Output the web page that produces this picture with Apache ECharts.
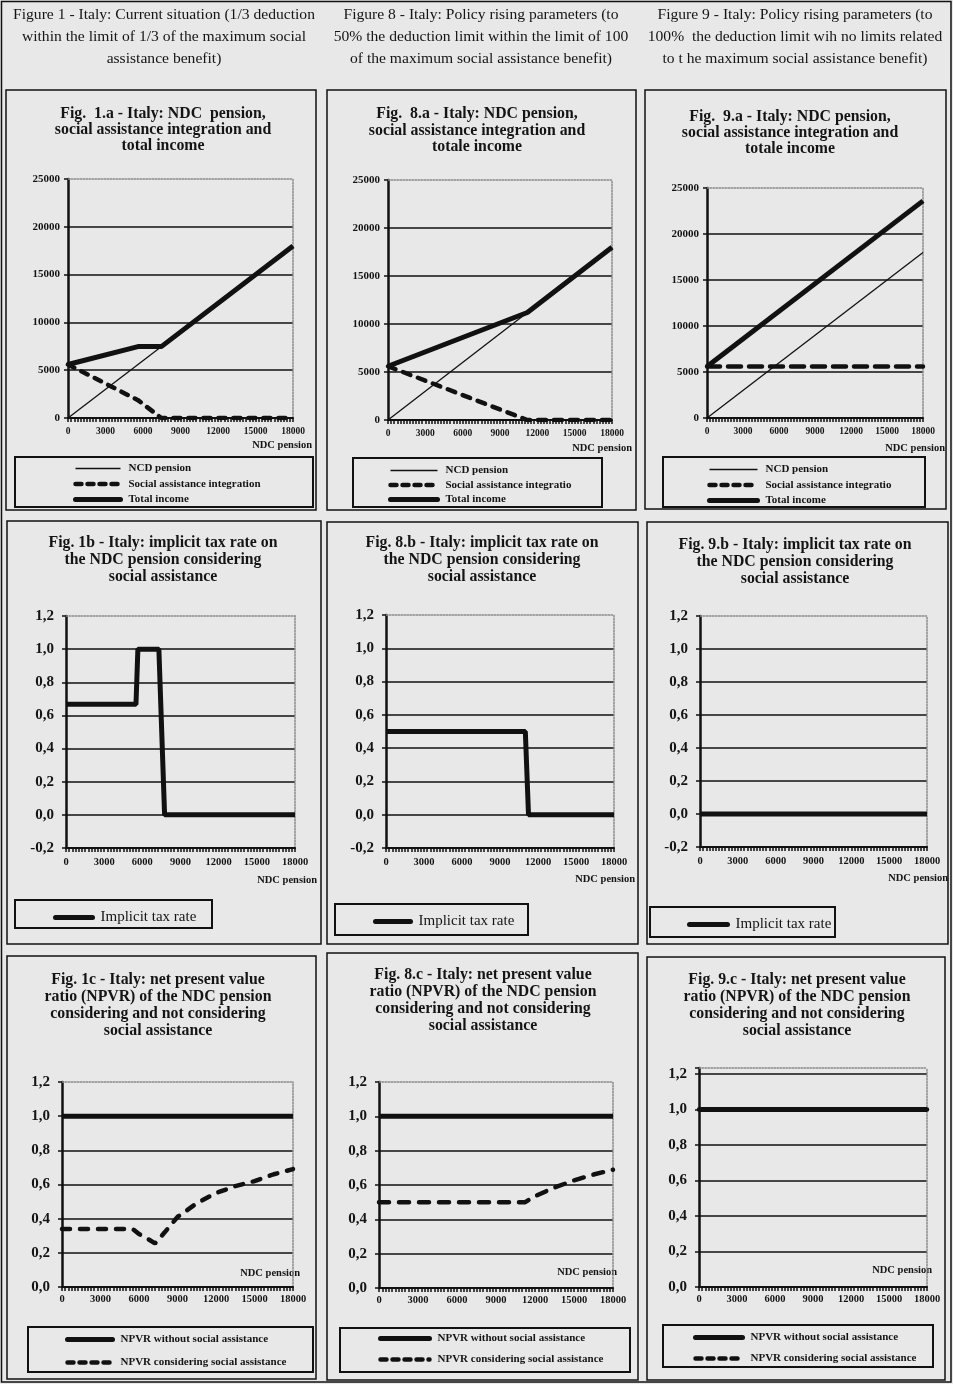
<!DOCTYPE html>
<html><head><meta charset="utf-8">
<script src="https://cdn.jsdelivr.net/npm/echarts@6/dist/echarts.min.js"></script>
<style>html,body{margin:0;padding:0;background:#e8e8e8}#c{width:953px;height:1384px}</style>
</head><body><div id="c"></div>
<script>
// ---------------- data ----------------
const xTickLabels = ['0','3000','6000','9000','12000','15000','18000'];
const incomeTickLabels = ['0','5000','10000','15000','20000','25000'];
const rateTickLabels = ['-0,2','0,0','0,2','0,4','0,6','0,8','1,0','1,2'];
const npvrTickLabels = ['0,0','0,2','0,4','0,6','0,8','1,0','1,2'];

// [NDC pension, value]
const ndcPension = [[0,0],[18000,18000]];
const fig1a_assistance = [[0,5600],[5600,1867],[7467,0],[18000,0]];
const fig1a_total = [[0,5600],[5600,7467],[7467,7467],[18000,18000]];
const fig8a_assistance = [[0,5600],[11200,0],[18000,0]];
const fig8a_total = [[0,5600],[11200,11200],[18000,18000]];
const fig9a_assistance = [[0,5600],[18000,5600]];
const fig9a_total = [[0,5600],[18000,23600]];

const fig1b_taxRate = [[0,0.667],[5500,0.667],[5650,1.0],[7300,1.0],[7750,0],[18000,0]];
const fig8b_taxRate = [[0,0.5],[11000,0.5],[11250,0],[18000,0]];
const fig9b_taxRate = [[0,0],[18000,0]];

const npvrWithout = [[0,1],[18000,1]];
const fig1c_npvrConsidering = [[0,0.34],[5500,0.34],[6000,0.31],[6500,0.29],[7250,0.255],[8000,0.32],[9000,0.41],[10500,0.49],[12000,0.55],[13500,0.59],[15000,0.62],[16500,0.66],[18000,0.69]];
const fig8c_npvrConsidering = [[0,0.5],[11250,0.5],[12000,0.535],[13500,0.585],[15000,0.627],[16500,0.661],[18000,0.689]];
const fig9c_npvrConsidering = [[0,1],[18000,1]];

// ---------------- text ----------------
const headerTexts = [
  'Figure 1 - Italy: Current situation (1/3 deduction\nwithin the limit of 1/3 of the maximum social\nassistance benefit)',
  'Figure 8 - Italy: Policy rising parameters (to\n50% the deduction limit within the limit of 100\nof the maximum social assistance benefit)',
  'Figure 9 - Italy: Policy rising parameters (to\n100%  the deduction limit wih no limits related\nto t he maximum social assistance benefit)'
];
const N_NCD = 'NCD pension', N_SA = 'Social assistance integration', N_TOT = 'Total income',
      N_TAX = 'Implicit tax rate', N_W = 'NPVR without social assistance', N_C = 'NPVR considering social assistance';

// ---------------- styles / layout ----------------
const FONT = "'Liberation Serif','Times New Roman',serif";
const INK = '#141414';
const LINE = '#111111';

const layout = [
  {kind:'a', grid:[68,179,225,239], title:[163,106,16,'Fig.  1.a - Italy: NDC  pension,\nsocial assistance integration and\ntotal income'],
   xName:[312,445], panel:[6,90,310,420], box:[15,457,298,50], legend:{left:73, top:463, w:45, gap:4.5, tw:null},
   series:[[N_NCD,ndcPension],[N_SA,fig1a_assistance],[N_TOT,fig1a_total]], dash:[7,8]},
  {kind:'a', grid:[388,180,224,240], title:[477,106,16.5,'Fig.  8.a - Italy: NDC pension,\nsocial assistance integration and\ntotale income'],
   xName:[632,448], panel:[327,90,309,420], box:[353,458,249,49], legend:{left:388, top:465, w:47, gap:3.5, tw:131},
   series:[[N_NCD,ndcPension],[N_SA,fig8a_assistance],[N_TOT,fig8a_total]], dash:[8,8]},
  {kind:'a', grid:[707,188,216,230], title:[790,109,16,'Fig.  9.a - Italy: NDC pension,\nsocial assistance integration and\ntotale income'],
   xName:[945,448], panel:[645,90,301,419], box:[663,457,262,50], legend:{left:707, top:464, w:48, gap:4.5, tw:131},
   series:[[N_NCD,ndcPension],[N_SA,fig9a_assistance],[N_TOT,fig9a_total]], dash:[13,8]},

  {kind:'b', grid:[66,616,229,232], title:[163,534.5,17,'Fig. 1b - Italy: implicit tax rate on\nthe NDC pension considering\nsocial assistance'],
   xName:[317,880], panel:[7,521,314,423], box:[15,900,197,28], legend:{left:53, top:910, w:37, gap:0, tw:99},
   series:[[N_TAX,fig1b_taxRate]]},
  {kind:'b', grid:[386,615,228,233], title:[482,534.5,17,'Fig. 8.b - Italy: implicit tax rate on\nthe NDC pension considering\nsocial assistance'],
   xName:[635,879], panel:[327,522,311,422], box:[335,904,193,31], legend:{left:373, top:914, w:35, gap:0, tw:99},
   series:[[N_TAX,fig8b_taxRate]]},
  {kind:'b', grid:[700,616,227,231], title:[795,536.5,17,'Fig. 9.b - Italy: implicit tax rate on\nthe NDC pension considering\nsocial assistance'],
   xName:[948,878], panel:[647,522,301,422], box:[650,907,185,30], legend:{left:687, top:917, w:38, gap:0, tw:99},
   series:[[N_TAX,fig9b_taxRate]]},

  {kind:'c', grid:[62,1082,231,205], max:1.2, title:[158,971.5,17,'Fig. 1c - Italy: net present value\nratio (NPVR) of the NDC pension\nconsidering and not considering\nsocial assistance'],
   xName:[300,1273], panel:[7,956,309,423], box:[28,1327,285,45], legend:{left:65, top:1334, w:45, gap:12, tw:null},
   series:[[N_W,npvrWithout],[N_C,fig1c_npvrConsidering]], dash:[8,10]},
  {kind:'c', grid:[379,1082,234,206], max:1.2, title:[483,966.5,17,'Fig. 8.c - Italy: net present value\nratio (NPVR) of the NDC pension\nconsidering and not considering\nsocial assistance'],
   xName:[617,1272], panel:[327,953,311,427], box:[340,1328,290,44], legend:{left:378, top:1333, w:49, gap:10, tw:null},
   series:[[N_W,npvrWithout],[N_C,fig8c_npvrConsidering]], dash:[10,10]},
  {kind:'c', grid:[699,1068,228,219], max:1.234, title:[797,971.5,17,'Fig. 9.c - Italy: net present value\nratio (NPVR) of the NDC pension\nconsidering and not considering\nsocial assistance'],
   xName:[932,1270], panel:[647,957,298,423], box:[663,1325,270,42], legend:{left:693, top:1332, w:47, gap:10, tw:null},
   series:[[N_W,npvrWithout],[N_C,fig9c_npvrConsidering]], dash:[8,8]}
];

function styleFor(name, p){
  if (name === N_NCD) return {color:LINE, width:1.3, type:'solid'};
  if (name === N_SA || name === N_C) return {color:LINE, width:4.5, type:p.dash, cap:'round'};
  return {color:LINE, width:5, type:'solid'};
}
function legendLineFor(name){
  if (name === N_NCD) return {color:LINE, width:1.5, type:'solid'};
  if (name === N_SA || name === N_C) return {color:LINE, width:4.5, type:[6,6], cap:'round'};
  return {color:LINE, width:5, type:'solid', cap:'round'};
}
function isMultiple(v, step){ return Math.abs(v/step - Math.round(v/step)) < 1e-6; }

const grids=[], xAxes=[], yAxes=[], series=[], legends=[], graphics=[];

// outer frame and headers
graphics.push({type:'rect', silent:true, shape:{x:1.5,y:1.5,width:949.5,height:1380.5}, style:{fill:'none', stroke:LINE, lineWidth:1.5}});
[[164,4],[481,4],[795,4]].forEach((pos,k)=>{
  graphics.push({type:'text', silent:true, x:pos[0], y:pos[1], style:{text:headerTexts[k], fontFamily:FONT, fontSize:15.6, fill:INK, align:'center', verticalAlign:'top', lineHeight:22}});
});

layout.forEach((p,i)=>{
  grids.push({left:p.grid[0], top:p.grid[1], width:p.grid[2], height:p.grid[3], show:false, containLabel:false, outerBoundsMode:'none'});
  const lblSize = p.kind==='a' ? 9.5 : 10.5;
  const xMargin = p.kind==='a' ? 9 : (p.kind==='b' ? 8.5 : 6.5);
  xAxes.push({gridIndex:i, type:'value', position:'bottom', min:0, max:18000, interval:3000,
    axisLine:{show:true, onZero:false, lineStyle:{color:LINE, width:2}},
    axisTick:{show:true, length:4, lineStyle:{color:LINE, width:1.5}},
    minorTick:{show:true, splitNumber:12, length:4, lineStyle:{color:LINE, width:1.5}},
    splitLine:{show:false}, minorSplitLine:{show:false},
    axisLabel:{show:true, margin:xMargin, fontFamily:FONT, fontSize:lblSize, fontWeight:'bold', color:INK,
      formatter:v=>xTickLabels[Math.round(v/3000)]}});
  xAxes.push({gridIndex:i, type:'value', position:'top', min:0, max:18000,
    axisLine:{show:true, onZero:false, lineStyle:{color:'#8a8a8a', width:1.5, type:'dotted'}},
    axisTick:{show:false}, axisLabel:{show:false}, splitLine:{show:false}});

  let yCfg;
  if (p.kind==='a') yCfg = {min:0, max:25000, interval:5000, size:11, margin:8,
      fmt:v=>isMultiple(v,5000)?incomeTickLabels[Math.round(v/5000)]:''};
  else if (p.kind==='b') yCfg = {min:-0.2, max:1.2, interval:0.2, size:15, margin:12,
      fmt:v=>isMultiple(v,0.2)?rateTickLabels[Math.round((v+0.2)/0.2)]:''};
  else yCfg = {min:0, max:p.max, interval:0.2, size:15, margin:12,
      fmt:v=>isMultiple(v,0.2)?npvrTickLabels[Math.round(v/0.2)]:''};
  yAxes.push({gridIndex:i, type:'value', position:'left', min:yCfg.min, max:yCfg.max, interval:yCfg.interval,
    axisLine:{show:true, onZero:false, lineStyle:{color:LINE, width:2.5}},
    axisTick:{show:true, length:4, lineStyle:{color:LINE, width:1.5}},
    splitLine:{show:true, showMaxLine:false, showMinLine:false, lineStyle:{color:LINE, width:1.5}},
    axisLabel:{show:true, margin:yCfg.margin, fontFamily:FONT, fontSize:yCfg.size, fontWeight:'bold', color:INK, formatter:yCfg.fmt}});
  yAxes.push({gridIndex:i, type:'value', position:'right', min:yCfg.min, max:yCfg.max,
    axisLine:{show:true, onZero:false, lineStyle:{color:'#8a8a8a', width:1.5, type:'dotted'}},
    axisTick:{show:false}, axisLabel:{show:false}, splitLine:{show:false}});

  p.series.forEach((s,k)=>{
    series.push({name:s[0], type:'line', xAxisIndex:2*i, yAxisIndex:2*i, data:s[1], symbol:'none', showSymbol:false,
      lineStyle:styleFor(s[0], p), itemStyle:{color:LINE}, z:2+k, animation:false, silent:true});
  });

  const legTextSize = p.kind==='b' ? 15 : 11;
  const ts = {fontFamily:FONT, fontSize:legTextSize, fontWeight:p.kind==='b'?'normal':'bold', color:INK, padding:[0,0,0,3]};
  if (p.legend.tw) { ts.width = p.legend.tw; ts.overflow = 'truncate'; ts.ellipsis = ''; }
  legends.push({show:true, orient:'vertical', left:p.legend.left, top:p.legend.top, padding:0,
    itemWidth:p.legend.w, itemHeight:12, itemGap:p.legend.gap, selectedMode:false,
    itemStyle:{color:'rgba(0,0,0,0)', borderWidth:0, opacity:0},
    data:p.series.map(s=>({name:s[0], lineStyle:legendLineFor(s[0]), itemStyle:{color:'rgba(0,0,0,0)', borderWidth:0, opacity:0}})),
    textStyle:ts});

  graphics.push({type:'rect', silent:true, shape:{x:p.panel[0], y:p.panel[1], width:p.panel[2], height:p.panel[3]}, style:{fill:'none', stroke:LINE, lineWidth:1.5}});
  graphics.push({type:'rect', silent:true, shape:{x:p.box[0], y:p.box[1], width:p.box[2], height:p.box[3]}, style:{fill:'none', stroke:LINE, lineWidth:2}});
  graphics.push({type:'text', silent:true, x:p.title[0], y:p.title[1], style:{text:p.title[3], fontFamily:FONT, fontSize:15.8, fontWeight:'bold', fill:INK, align:'center', verticalAlign:'top', lineHeight:p.title[2]}});
  graphics.push({type:'text', silent:true, x:p.xName[0], y:p.xName[1], style:{text:'NDC pension', fontFamily:FONT, fontSize:10.5, fontWeight:'bold', fill:INK, align:'right', verticalAlign:'middle'}});
});

const chart = echarts.init(document.getElementById('c'), null, {renderer:'canvas', width:953, height:1384});
chart.setOption({
  backgroundColor:'#e8e8e8',
  animation:false,
  grid:grids, xAxis:xAxes, yAxis:yAxes, series:series, legend:legends, graphic:graphics
});
</script>
</body></html>
